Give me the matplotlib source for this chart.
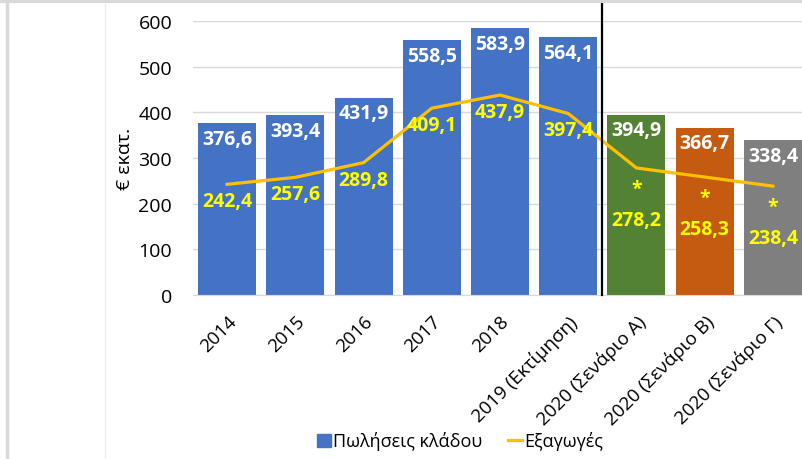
import numpy as np
import matplotlib.pyplot as plt
from matplotlib.lines import Line2D
from matplotlib.patches import Rectangle

plt.rcParams['font.family'] = ['Open Sans', 'DejaVu Sans']

categories = ['2014', '2015', '2016', '2017', '2018', '2019 (Εκτίμηση)',
              '2020 (Σενάριο Α)', '2020 (Σενάριο Β)', '2020 (Σενάριο Γ)']
sales = [376.6, 393.4, 431.9, 558.5, 583.9, 564.1, 394.9, 366.7, 338.4]
exports = [242.4, 257.6, 289.8, 409.1, 437.9, 397.4, 278.2, 258.3, 238.4]
bar_colors = ['#4472C4'] * 6 + ['#548235', '#C55A11', '#7F7F7F']
scenario = [False] * 6 + [True] * 3


def fmt(v):
    return f'{v:.1f}'.replace('.', ',')


fig = plt.figure(figsize=(8.02, 4.60), dpi=100)
ax = fig.add_axes([193 / 802, 1 - 296 / 460, 614 / 802, 274 / 460])

x = np.arange(len(categories))
ax.bar(x, sales, width=0.85, color=bar_colors, zorder=2)
ax.plot(x, exports, color='#FFC000', linewidth=2.3, zorder=3)

lbl = dict(ha='center', va='top', fontsize=14, fontweight='bold',
           textcoords='offset points', zorder=4)
for i, v in enumerate(sales):
    ax.annotate(fmt(v), (x[i], v), xytext=(0, -4), color='white', **lbl)

for i, v in enumerate(exports):
    if scenario[i]:
        ax.annotate('*', (x[i], v), xytext=(0, -8), color='#FFFF00', **lbl)
        ax.annotate(fmt(v), (x[i], v), xytext=(0, -30), color='#FFFF00', **lbl)
    else:
        ax.annotate(fmt(v), (x[i], v), xytext=(0, -5), color='#FFFF00', **lbl)

# separator between actual and scenarios
ax.plot([5.5, 5.5], [0, 637], color='black', linewidth=1.6, clip_on=False, zorder=5)

ax.set_xlim(-0.5, 8.5)
ax.set_ylim(0, 600)
ax.set_yticks(range(0, 601, 100))
ax.yaxis.grid(True, color='#D9D9D9', linewidth=1)
ax.set_axisbelow(True)
for s in ['top', 'right', 'left']:
    ax.spines[s].set_visible(False)
ax.spines['bottom'].set_color('#D9D9D9')
ax.tick_params(axis='y', length=0, labelsize=14, pad=15)
ax.set_xticks(x)
ax.set_xticklabels(categories, rotation=45, ha='right', rotation_mode='anchor')
ax.tick_params(axis='x', length=0, labelsize=13.5, pad=12)
ax.set_ylabel('€ εκατ.', fontsize=14, labelpad=3)

handles = [Rectangle((0, 0), 1, 1, color='#4472C4'),
           Line2D([0], [0], color='#FFC000', linewidth=2.3)]
fig.legend(handles, ['Πωλήσεις κλάδου', 'Εξαγωγές'], loc='center',
           bbox_to_anchor=(460 / 802, 1 - 442 / 460), ncol=2, frameon=False,
           fontsize=13, handlelength=0.8, handletextpad=0.1, columnspacing=1.4)

# frame remnants of the cropped screenshot
fig.add_artist(Line2D([6.5 / 802, 6.5 / 802], [0, 1], color='#D9D9D9', linewidth=2.5))
fig.add_artist(Line2D([105 / 802, 105 / 802], [0, 1 - 5 / 460], color='#EBEBEB', linewidth=1))
fig.add_artist(Line2D([0, 1], [1 - 1.5 / 460, 1 - 1.5 / 460], color='#D9D9D9', linewidth=3))

fig.savefig('out.png', dpi=100)
